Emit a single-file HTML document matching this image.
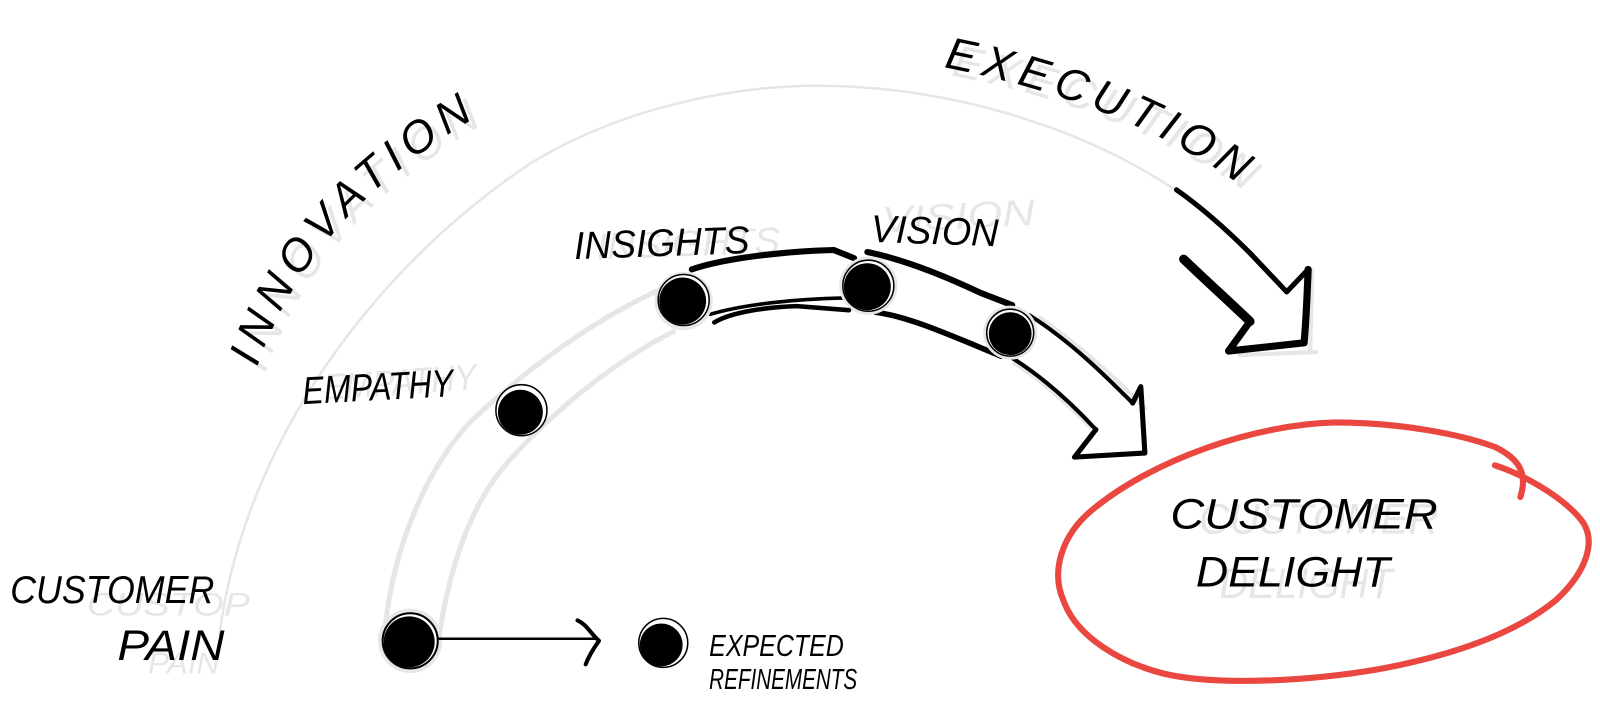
<!DOCTYPE html>
<html><head><meta charset="utf-8"><style>
html,body{margin:0;padding:0;background:#fff;width:1600px;height:722px;overflow:hidden}
svg{display:block}
text{font-family:"Liberation Sans",sans-serif;font-style:italic;fill:#000}
.g{fill:#e6e6e6}
.k{fill:none;stroke:#000;stroke-linecap:round;stroke-linejoin:round}
.a{fill:none;stroke:#e6e6e6;stroke-linecap:round}
</style></head><body>
<svg width="1600" height="722" viewBox="0 0 1600 722" xmlns="http://www.w3.org/2000/svg">
<defs>
<path id="pi" d="M252 360C285 265 345 190 458 120L520 90"/>
<path id="pig" d="M260 366C293 271 353 196 466 126L528 96"/>
<path id="pe" d="M925 66C1020 84 1130 119 1222 186L1280 234"/>
<path id="peg" d="M932 74C1027 92 1137 127 1229 194L1287 242"/>
</defs>
<g transform="scale(1.0204)">
<!-- grey guides -->
<path class="a" stroke-width="2.5" d="M215 622C240 430 370 260 520 160C610 105 720 84 800 84C930 84 1060 125 1150 185"/>
<path class="a" stroke-width="5" d="M377 620C385 530 425 445 470 405C530 350 590 310 650 282"/>
<path class="a" stroke-width="5" d="M430 625C440 560 460 490 505 445C560 385 620 345 660 325"/>
<path class="a" stroke-width="4" d="M994 356C1020 372 1045 395 1068 418M1020 312C1060 340 1095 372 1122 400"/>
<path class="a" stroke-width="4" d="M1286 265L1284 345M1215 348L1290 345"/>
<!-- ghost text -->
<text font-size="44" class="g" letter-spacing="7"><textPath href="#pig">INNOVATION</textPath></text>
<text font-size="44" class="g" letter-spacing="7"><textPath href="#peg">EXECUTION</textPath></text>
<text class="g" x="318" y="392" font-size="36" textLength="150" lengthAdjust="spacingAndGlyphs" transform="rotate(-4 318 392)">EMPATHY</text>
<text class="g" x="585" y="254" font-size="36" textLength="180" lengthAdjust="spacingAndGlyphs" transform="rotate(-2 585 254)">INSIGHTS</text>
<text class="g" x="865" y="228" font-size="36" textLength="150" lengthAdjust="spacingAndGlyphs" transform="rotate(-3 865 228)">VISION</text>
<text class="g" x="85" y="603" font-size="32" textLength="160" lengthAdjust="spacingAndGlyphs">CUSTOP</text>
<text class="g" x="145" y="660" font-size="30" textLength="70" lengthAdjust="spacingAndGlyphs">PAIN</text>
<text class="g" x="1175" y="523" font-size="42" textLength="235" lengthAdjust="spacingAndGlyphs">CUSTOMER</text>
<text class="g" x="1195" y="586" font-size="42" textLength="170" lengthAdjust="spacingAndGlyphs">DELIGHT</text>
<!-- big arrow -->
<path class="k" stroke-width="5" d="M1153 186C1180 205 1205 228 1225 248L1261 286"/>
<path class="k" stroke-width="5" d="M1261 286L1282 264"/>
<path class="k" stroke-width="7" d="M1282 264C1281 290 1280 315 1278 336L1204 344L1225 315"/>
<path class="k" stroke-width="9" d="M1160 254C1182 275 1205 296 1225 315"/>
<!-- banded arrow -->
<path class="k" stroke-width="6" d="M678 264C710 253 770 246 817 245L837 253"/>
<path class="k" stroke-width="3.5" d="M696 308C730 298 780 293 827 292"/>
<path class="k" stroke-width="4.5" d="M700 316C716 306 750 301 781 300L832 304"/>
<path class="k" stroke-width="6" d="M850 247C885 254 925 270 961 287L992 299"/>
<path class="k" stroke-width="5.5" d="M858 306C890 310 930 328 981 349"/>
<path class="k" stroke-width="4" d="M1009 309C1050 335 1085 370 1110 395"/>
<path class="k" stroke-width="4" d="M989 349C1020 368 1050 395 1074 421"/>
<path class="k" stroke-width="5" d="M1074 421L1053 448L1122 444L1118 379L1110 395"/>
<!-- nodes -->
<g fill="#fff" stroke="#e6e6e6" stroke-width="3">
<circle cx="670" cy="295" r="27"/><circle cx="851" cy="280" r="27"/><circle cx="990" cy="326" r="25"/>
<circle cx="402" cy="628" r="29" stroke-width="5"/>
</g>
<g fill="#fff" stroke="#000" stroke-width="1.5">
<circle cx="670" cy="294" r="25"/><circle cx="851" cy="280" r="25"/><circle cx="990" cy="326" r="23"/>
<circle cx="511" cy="402" r="25"/><circle cx="402" cy="628" r="27" stroke-width="2"/>
<circle cx="650" cy="630" r="24"/>
</g>
<g fill="#000">
<circle cx="669" cy="295" r="23"/><circle cx="850" cy="281" r="23"/><circle cx="990" cy="327" r="21"/>
<circle cx="510" cy="404" r="22"/><circle cx="401" cy="629" r="25"/><circle cx="648" cy="632" r="21"/>
</g>
<!-- small arrow -->
<path class="k" stroke-width="2.5" d="M430 626H585"/>
<path class="k" stroke-width="4" d="M566 608C575 612 578 620 587 628C582 635 577 643 574 651"/>
<!-- red loop -->
<path fill="none" stroke="#e9473f" stroke-width="6" stroke-linecap="round" stroke-linejoin="round" d="M1465 456C1490 464 1530 485 1550 510C1565 530 1555 560 1525 588C1480 625 1410 645 1350 656C1280 668 1190 672 1140 660C1100 650 1055 625 1042 588C1030 560 1040 525 1070 500C1130 450 1230 416 1308 414C1370 414 1430 425 1465 438C1490 450 1497 465 1490 487"/>
<!-- labels -->
<text font-size="44" letter-spacing="7"><textPath href="#pi">INNOVATION</textPath></text>
<text font-size="44" letter-spacing="7"><textPath href="#pe">EXECUTION</textPath></text>
<text x="297" y="396" font-size="38" textLength="148" lengthAdjust="spacingAndGlyphs" transform="rotate(-3 297 396)">EMPATHY</text>
<text x="563" y="254" font-size="38" textLength="172" lengthAdjust="spacingAndGlyphs" transform="rotate(-2 563 254)">INSIGHTS</text>
<text x="853" y="237" font-size="38" textLength="125" lengthAdjust="spacingAndGlyphs" transform="rotate(2 853 237)">VISION</text>
<text x="10" y="591" font-size="38" textLength="200" lengthAdjust="spacingAndGlyphs">CUSTOMER</text>
<text x="115" y="647" font-size="42" textLength="105" lengthAdjust="spacingAndGlyphs">PAIN</text>
<text x="1147" y="518" font-size="42" textLength="262" lengthAdjust="spacingAndGlyphs">CUSTOMER</text>
<text x="1172" y="575" font-size="42" textLength="190" lengthAdjust="spacingAndGlyphs">DELIGHT</text>
<text x="695" y="643" font-size="30" textLength="132" lengthAdjust="spacingAndGlyphs">EXPECTED</text>
<text x="695" y="675" font-size="28" textLength="145" lengthAdjust="spacingAndGlyphs">REFINEMENTS</text>
</g>
</svg>
</body></html>
